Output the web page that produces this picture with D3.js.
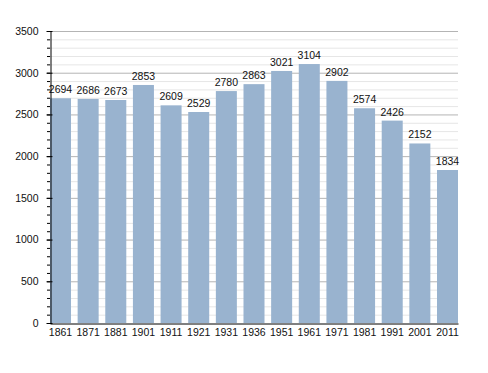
<!DOCTYPE html>
<html>
<head>
<meta charset="utf-8">
<script src="https://cdn.jsdelivr.net/npm/d3@7"></script>
<style>
  body { margin: 0; background: #fff; }
  text { font-family: "Liberation Sans", Arial, sans-serif; }
</style>
</head>
<body>
<div id="container"></div>
<script>
// census years and population
const years = ["1861", "1871", "1881", "1901", "1911", "1921", "1931", "1936",
  "1951", "1961", "1971", "1981", "1991", "2001", "2011"]
const population = [2694, 2686, 2673, 2853, 2609, 2529, 2780, 2863,
  3021, 3104, 2902, 2574, 2426, 2152, 1834]
const yTicks = [0, 500, 1000, 1500, 2000, 2500, 3000, 3500]

const width = 488
const height = 373
const margin = { top: 31, right: 30, bottom: 50, left: 50 }

const svg = d3.select('#container').append('svg')
  .attr('width', width)
  .attr('height', height)

const x = d3.scaleBand()
  .domain(years)
  .range([margin.left, width - margin.right])
  .paddingInner(0.24)
  .paddingOuter(0)

const y = d3.scaleLinear()
  .domain([0, 3500])
  .range([height - margin.bottom, margin.top])

// minor grid every 100
svg.append('g')
  .selectAll('line')
  .data(d3.range(100, 3600, 100).filter(d => d % 500 !== 0))
  .enter()
  .append('line')
  .attr('x1', margin.left)
  .attr('x2', width - margin.right)
  .attr('y1', d => y(d) + 0.5)
  .attr('y2', d => y(d) + 0.5)
  .attr('stroke', '#e6e6e6')

// major grid
svg.append('g')
  .selectAll('line')
  .data(yTicks.slice(1))
  .enter()
  .append('line')
  .attr('x1', margin.left)
  .attr('x2', width - margin.right)
  .attr('y1', d => y(d) + 0.5)
  .attr('y2', d => y(d) + 0.5)
  .attr('stroke', '#b4b4b4')

svg.selectAll('rect.bar')
  .data(population)
  .enter()
  .append('rect')
  .attr('class', 'bar')
  .attr('x', (d, i) => x(years[i]))
  .attr('y', d => y(d))
  .attr('width', x.bandwidth())
  .attr('height', d => y(0) - y(d))
  .attr('fill', '#99b3cf')

svg.selectAll('text.val')
  .data(population)
  .enter()
  .append('text')
  .attr('class', 'val')
  .attr('x', (d, i) => x(years[i]) + x.bandwidth() / 2)
  .attr('y', d => y(d) - 5)
  .attr('text-anchor', 'middle')
  .attr('font-size', 10.5)
  .attr('fill', '#111')
  .text(d => d)

// y axis minor ticks
svg.append('g')
  .selectAll('line')
  .data(d3.range(0, 3600, 100))
  .enter()
  .append('line')
  .attr('x1', margin.left - 3)
  .attr('x2', margin.left)
  .attr('y1', d => y(d) + 0.5)
  .attr('y2', d => y(d) + 0.5)
  .attr('stroke', '#000')

const yAxis = svg.append('g')
  .attr('transform', `translate(${margin.left + 0.5},0)`)
  .call(d3.axisLeft(y).tickValues(yTicks).tickFormat(d3.format('d'))
    .tickSize(4).tickSizeOuter(0).tickPadding(8))
yAxis.select('.domain').attr('stroke', '#000')
yAxis.selectAll('.tick line').attr('x2', -4).attr('x1', 2)
yAxis.selectAll('text').attr('font-size', 10.5).attr('fill', '#111')
  .style('font-family', '"Liberation Sans", Arial, sans-serif')

const xAxis = svg.append('g')
  .attr('transform', `translate(0,${height - margin.bottom + 0.5})`)
  .call(d3.axisBottom(x).tickSize(0).tickSizeOuter(0).tickPadding(5))
xAxis.select('.domain').attr('stroke', '#000')
xAxis.selectAll('text').attr('font-size', 10.5).attr('fill', '#111')
  .style('font-family', '"Liberation Sans", Arial, sans-serif')
</script>
</body>
</html>
